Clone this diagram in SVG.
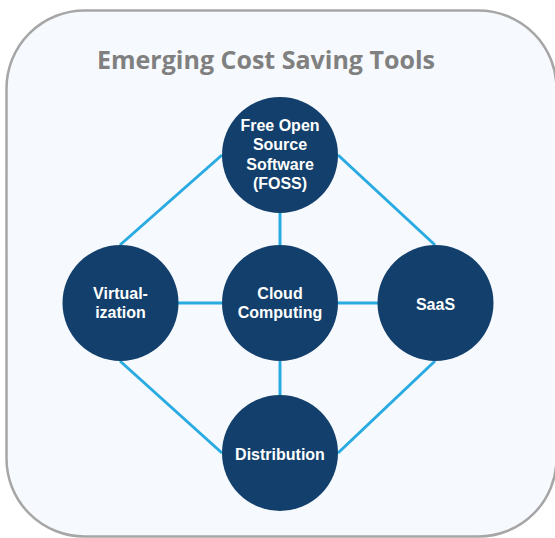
<svg xmlns="http://www.w3.org/2000/svg" width="555" height="538" viewBox="0 0 555 538">
<style>
.node{fill:#123f6b}
.lbl{fill:#ffffff;font-family:"Liberation Sans",Arial,sans-serif;font-weight:bold;font-size:16px;text-anchor:middle}
.conn{stroke:#29abe2;stroke-width:3;fill:none}
</style>
<rect x="6.5" y="10.5" width="550" height="526" rx="78" ry="78" fill="#f6f9fd" stroke="#a6a6a6" stroke-width="2.5"/>
<text x="266" y="69" fill="#808080" font-family="'Open Sans',sans-serif" font-weight="bold" font-size="25" text-anchor="middle" textLength="338" lengthAdjust="spacingAndGlyphs">Emerging Cost Saving Tools</text>
<g id="connectors">
<line class="conn" x1="222" y1="155" x2="120" y2="245"/>
<line class="conn" x1="338" y1="155" x2="435" y2="245"/>
<line class="conn" x1="120" y1="361" x2="222" y2="453"/>
<line class="conn" x1="435" y1="361" x2="338" y2="453"/>
<line class="conn" x1="280" y1="213" x2="280" y2="245"/>
<line class="conn" x1="178" y1="303" x2="222" y2="303"/>
<line class="conn" x1="338" y1="303" x2="378" y2="303"/>
<line class="conn" x1="280" y1="361" x2="280" y2="395"/>
</g>
<g id="foss">
<circle class="node" cx="280" cy="155" r="58"/>
<text class="lbl" x="280" y="131">Free Open</text>
<text class="lbl" x="280" y="150">Source</text>
<text class="lbl" x="280" y="169.5">Software</text>
<text class="lbl" x="280" y="188.5">(FOSS)</text>
</g>
<g id="virtualization">
<circle class="node" cx="120.5" cy="303" r="58"/>
<text class="lbl" x="120.5" y="299">Virtual-</text>
<text class="lbl" x="120.5" y="318">ization</text>
</g>
<g id="cloud">
<circle class="node" cx="280" cy="303" r="58"/>
<text class="lbl" x="280" y="299">Cloud</text>
<text class="lbl" x="280" y="318">Computing</text>
</g>
<g id="saas">
<circle class="node" cx="435.5" cy="303" r="58"/>
<text class="lbl" x="435.5" y="310">SaaS</text>
</g>
<g id="distribution">
<circle class="node" cx="280" cy="453" r="58"/>
<text class="lbl" x="280" y="459.5">Distribution</text>
</g>
</svg>
